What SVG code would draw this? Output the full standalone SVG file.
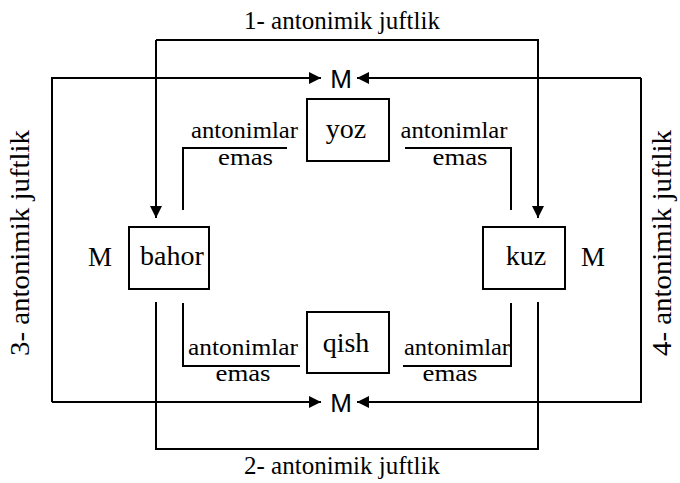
<svg xmlns="http://www.w3.org/2000/svg" width="680" height="483" viewBox="0 0 680 483">
<style>
.ln{fill:none;stroke:#000;stroke-width:2}
.bx{fill:#fff;stroke:#000;stroke-width:2}
.t{font-family:"Liberation Serif",serif;fill:#000}
.s{font-family:"Liberation Sans",sans-serif;fill:#000}
.ttl{font-size:25px}
.vt{font-size:27px}
.lb{font-size:23px}
</style>
<defs>
<marker id="ah" viewBox="0 0 12 12" refX="12" refY="6" markerWidth="12" markerHeight="12" markerUnits="userSpaceOnUse" orient="auto">
<path d="M0,0 L12,6 L0,12 z" fill="#000"/>
</marker>
</defs>
<rect width="680" height="483" fill="#fff"/>
<g id="connectors">
<path class="ln" d="M156,40 V218" marker-end="url(#ah)"/>
<path class="ln" d="M156,40 H538 V218" marker-end="url(#ah)"/>
<path class="ln" d="M156,302 V449 H538 V302"/>
<path class="ln" d="M52,402 V78 H321" marker-end="url(#ah)"/>
<path class="ln" d="M641,78 H357" marker-end="url(#ah)"/>
<path class="ln" d="M52,402 H321" marker-end="url(#ah)"/>
<path class="ln" d="M641,78 V402 H357" marker-end="url(#ah)"/>
<path class="ln" d="M287,148 H183 V210"/>
<path class="ln" d="M405,148 H511 V210"/>
<path class="ln" d="M183,303 V366 H300"/>
<path class="ln" d="M511,303 V366 H403"/>
</g>
<g id="labels">
<text class="t ttl" x="342" y="29" text-anchor="middle" textLength="196" lengthAdjust="spacingAndGlyphs">1- antonimik juftlik</text>
<text class="t ttl" x="342" y="474" text-anchor="middle" textLength="196" lengthAdjust="spacingAndGlyphs">2- antonimik juftlik</text>
<text class="t vt" text-anchor="middle" textLength="226" lengthAdjust="spacingAndGlyphs" transform="translate(29,243) rotate(-90)">3- antonimik juftlik</text>
<text class="t vt" text-anchor="middle" textLength="226" lengthAdjust="spacingAndGlyphs" transform="translate(671,243) rotate(-90)">4- antonimik juftlik</text>
<text class="s" x="341" y="88" font-size="26" text-anchor="middle">M</text>
<text class="s" x="341" y="412" font-size="26" text-anchor="middle">M</text>
<text class="t" x="100" y="266" font-size="27" text-anchor="middle">M</text>
<text class="t" x="593" y="266" font-size="27" text-anchor="middle">M</text>
<text class="t lb" x="244.5" y="138" text-anchor="middle" textLength="107" lengthAdjust="spacingAndGlyphs">antonimlar</text>
<text class="t lb" x="245.5" y="165" text-anchor="middle" textLength="55" lengthAdjust="spacingAndGlyphs">emas</text>
<text class="t lb" x="454" y="138" text-anchor="middle" textLength="107" lengthAdjust="spacingAndGlyphs">antonimlar</text>
<text class="t lb" x="460" y="165" text-anchor="middle" textLength="55" lengthAdjust="spacingAndGlyphs">emas</text>
<text class="t lb" x="243" y="355" text-anchor="middle" textLength="110" lengthAdjust="spacingAndGlyphs">antonimlar</text>
<text class="t lb" x="243" y="381" text-anchor="middle" textLength="55" lengthAdjust="spacingAndGlyphs">emas</text>
<text class="t lb" x="457" y="355" text-anchor="middle" textLength="106" lengthAdjust="spacingAndGlyphs">antonimlar</text>
<text class="t lb" x="450" y="381" text-anchor="middle" textLength="55" lengthAdjust="spacingAndGlyphs">emas</text>
</g>
<g id="node-yoz">
<rect class="bx" x="307" y="99" width="82" height="62"/>
<text class="t" x="346" y="138" font-size="28" text-anchor="middle">yoz</text>
</g>
<g id="node-qish">
<rect class="bx" x="307" y="312" width="82" height="61"/>
<text class="t" x="346" y="352" font-size="28" text-anchor="middle">qish</text>
</g>
<g id="node-bahor">
<rect class="bx" x="129" y="227" width="80" height="62"/>
<text class="t" x="172" y="265" font-size="28" text-anchor="middle">bahor</text>
</g>
<g id="node-kuz">
<rect class="bx" x="483" y="227" width="82" height="62"/>
<text class="t" x="526" y="265" font-size="28" text-anchor="middle">kuz</text>
</g>
</svg>
